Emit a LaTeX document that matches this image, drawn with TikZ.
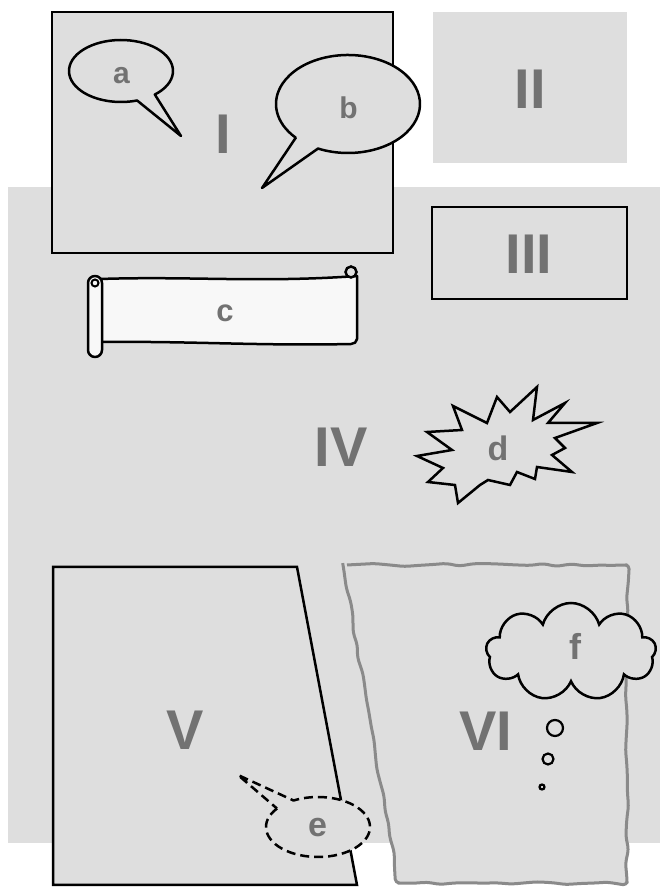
\documentclass[tikz,border=0pt]{standalone}
\usepackage{fontspec}
\setmainfont{Liberation Sans}
\usetikzlibrary{shapes.symbols,decorations.pathmorphing}
\definecolor{panelGray}{HTML}{DEDEDE}
\definecolor{labelGray}{HTML}{727272}
\definecolor{frameGray}{HTML}{8A8A8A}
\definecolor{scrollWhite}{HTML}{F8F8F8}

\tikzset{
    panel/.style={
        fill=panelGray,
        draw=black,
        line width=2.5pt
    },
    numeral/.style={
        text=labelGray,
        font=\bfseries\fontsize{56}{60}\selectfont
    },
    letter/.style={
        text=labelGray,
        font=\bfseries\fontsize{30}{32}\selectfont
    },
    balloon/.style={
        fill=panelGray,
        draw=black,
        line width=2.5pt,
        line join=round
    },
    scroll/.style={
        fill=scrollWhite,
        draw=black,
        line width=2.5pt,
        line join=round
    },
    thoughtdot/.style={
        circle,
        draw=black,
        fill=panelGray,
        line width=2.2pt,
        inner sep=0pt
    }
}

\begin{document}
\begin{tikzpicture}[x=1pt, y=1pt]

        \useasboundingbox (0,0) rectangle (660,887);

        % Fondo de página (viñeta IV)
        \fill[panelGray] (8,44) rectangle (660,700);

        \node[numeral] (n4) at (341,440) {IV};

        % =====================================================
        % FILA 1
        % =====================================================

        % Viñeta I
        \draw[panel] (52,875) rectangle (393,634);

        \node[numeral] (n1) at (223,753) {I};

        % Globo a
        \coordinate (ca) at (121,816);
        \coordinate (ta) at (181,751);
        \draw[balloon] (ca) ++(-49.4:52 and 31)
            arc[start angle=-49.4, end angle=288, x radius=52, y radius=31]
            -- (ta) -- cycle;

        \node[letter] (a) at (121.5,811.5) {a};

        % Globo b
        \coordinate (cb) at (348,783);
        \coordinate (tb) at (262,699);
        \draw[balloon] (cb) ++(245.4:72 and 49)
            arc[start angle=245.4, end angle=583.5, x radius=72, y radius=49]
            -- (tb) -- cycle;

        \node[letter] (b) at (348.5,779.5) {b};

        % Viñeta II
        \fill[panelGray] (433,875) rectangle (627,724);

        \node[numeral] (n2) at (530,798) {II};

        % Viñeta III
        \draw[panel] (432,680) rectangle (627,588);

        \node[numeral] (n3) at (529,633) {III};

        % =====================================================
        % FILA 2
        % =====================================================

        % Pergamino c
        \draw[scroll] (100,608)
            .. controls (190,611) and (260,604) .. (357,611)
            -- (357,548) to[out=-90, in=0] (351,543)
            .. controls (260,541) and (190,546) .. (100,545) -- cycle;
        \draw[
            line width=2.5pt,
            fill=panelGray
        ] (351,615) circle[radius=5.5];
        \draw[
            scroll,
            rounded corners=7pt
        ] (88,611) rectangle (102,530);
        \draw[line width=2pt] (95,604) circle[radius=3.5];

        \node[letter, font=\bfseries\fontsize{31}{33}\selectfont] (c) at (225,574) {c};

        % Estallido d
        \draw[
            fill=panelGray,
            draw=black,
            line width=2.5pt
        ] (417,431) -- (452,437) -- (427,455) -- (462,457) -- (453,481)
            -- (487,464) -- (497,490) -- (510,475) -- (537,500) -- (533,467)
            -- (565,484) -- (548,464) -- (597,464) -- (555,449) -- (565,439)
            -- (552,432) -- (572,415) -- (537,420) -- (535,408) -- (517,415)
            -- (510,402) -- (488,407) -- (480,402) -- (458,384) -- (455,402)
            -- (428,405) -- (443,419) -- cycle;

        \node[letter, font=\bfseries\fontsize{34}{36}\selectfont] (d) at (498,439) {d};

        % =====================================================
        % FILA 3
        % =====================================================

        % Viñeta V
        \draw[panel] (53,320) -- (297,320) -- (357,2) -- (53,2) -- cycle;

        \node[numeral] (n5) at (185,157) {V};

        % Viñeta VI
        \pgfmathsetseed{12}
        \draw[
            fill=panelGray,
            draw=frameGray,
            line width=3pt,
            line join=round,
            rounded corners=4pt,
            decorate,
            decoration={random steps, segment length=14pt, amplitude=1.6pt}
        ] (343,322) -- (627,322) -- (627,4) -- (398,4) -- cycle;

        \node[numeral] (n6) at (486,156) {VI};

        % Susurro e
        \coordinate (ce) at (318,60);
        \coordinate (te) at (238,112);
        \draw[
            balloon,
            dash pattern=on 9pt off 5pt
        ] (ce) ++(142:52 and 30)
            arc[start angle=142, end angle=478, x radius=52, y radius=30]
            -- (te) -- cycle;

        \node[letter, font=\bfseries\fontsize{34}{36}\selectfont] (e) at (317.5,59.5) {e};

        % Pensamiento f
        \node[
            cloud,
            cloud puffs=9,
            aspect=1.7,
            draw=black,
            fill=panelGray,
            line width=2.5pt,
            minimum width=170pt,
            minimum height=98pt
        ] (cf) at (571,235) {};

        \node[letter, font=\bfseries\fontsize{36}{38}\selectfont] (f) at (575,240.5) {f};

        \node[thoughtdot, minimum size=16pt] (t1) at (555,159) {};
        \node[thoughtdot, minimum size=11pt] (t2) at (548,128) {};
        \node[thoughtdot, minimum size=5pt] (t3) at (542,100) {};

    \end{tikzpicture}
\end{document}
